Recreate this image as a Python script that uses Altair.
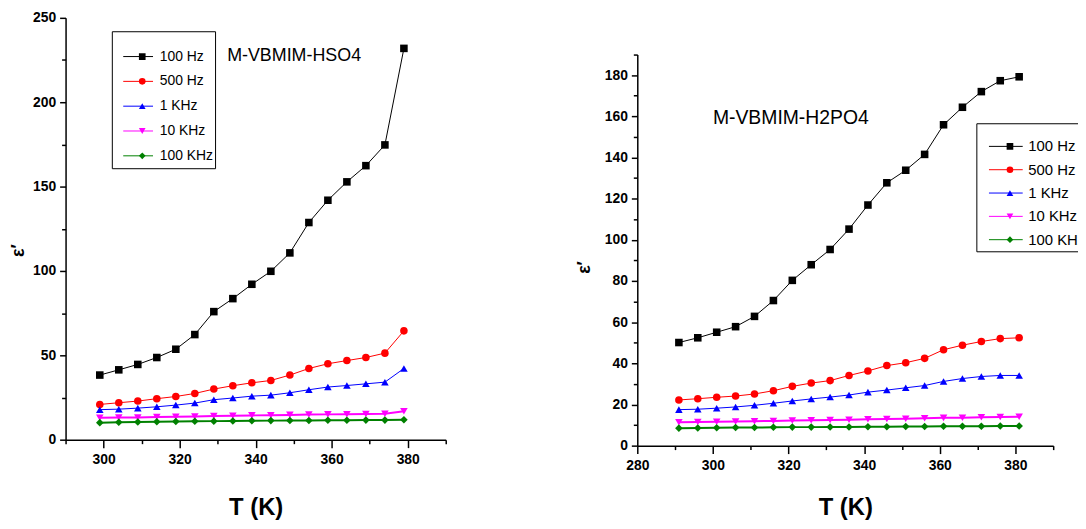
import altair as alt
import pandas as pd

FREQS = ["100 Hz", "500 Hz", "1 KHz", "10 KHz", "100 KHz"]
COLORS = ["#000000", "#ff0000", "#0000ff", "#ff00ff", "#008000"]
SHAPES = ["square", "circle", "triangle-up", "triangle-down", "diamond"]
THICK_LINES = ["10 KHz", "100 KHz"]

# ---- M-VBMIM-HSO4 ----
T_HSO4 = [299, 304, 309, 314, 319, 324, 329, 334, 339, 344, 349, 354, 359, 364, 369, 374, 379]
HSO4_100HZ = [38.3, 41.4, 44.6, 48.7, 53.6, 62.3, 75.9, 83.6, 92.1, 99.8, 110.7, 128.7, 141.9, 152.8, 162.4, 174.7, 231.9]
HSO4_500HZ = [20.9, 21.9, 22.9, 24.3, 25.6, 27.4, 30.0, 32.0, 33.7, 35.1, 38.3, 42.2, 45.0, 46.9, 48.7, 51.3, 64.5]
HSO4_1KHZ = [17.8, 18.1, 18.7, 19.5, 20.5, 21.7, 23.7, 24.7, 25.8, 26.4, 27.8, 29.6, 31.2, 32.1, 33.1, 34.1, 42.2]
HSO4_10KHZ = [13.0, 13.1, 13.2, 13.4, 13.6, 13.8, 14.0, 14.2, 14.4, 14.5, 14.7, 14.9, 15.0, 15.1, 15.2, 15.4, 16.8]
HSO4_100KHZ = [10.1, 10.3, 10.5, 10.6, 10.8, 10.9, 11.0, 11.1, 11.2, 11.3, 11.4, 11.4, 11.5, 11.5, 11.6, 11.6, 11.8]

# ---- M-VBMIM-H2PO4 ----
T_H2PO4 = [291, 296, 301, 306, 311, 316, 321, 326, 331, 336, 341, 346, 351, 356, 361, 366, 371, 376, 381]
H2PO4_100HZ = [50.1, 52.4, 55.1, 57.8, 62.8, 70.5, 80.3, 87.9, 95.3, 105.2, 116.9, 127.7, 133.8, 141.5, 155.9, 164.4, 172.0, 177.3, 179.2]
H2PO4_500HZ = [22.2, 22.8, 23.5, 24.1, 25.1, 26.7, 28.8, 30.4, 31.6, 34.1, 36.3, 38.9, 40.3, 42.4, 46.6, 48.8, 50.6, 52.0, 52.4]
H2PO4_1KHZ = [17.5, 17.7, 18.2, 18.8, 19.6, 20.6, 21.7, 22.7, 23.6, 24.6, 26.0, 27.0, 28.1, 29.2, 31.2, 32.6, 33.6, 34.1, 34.1]
H2PO4_10KHZ = [11.4, 11.5, 11.6, 11.7, 11.9, 12.0, 12.2, 12.3, 12.5, 12.6, 12.8, 12.9, 13.1, 13.3, 13.5, 13.6, 13.8, 13.9, 14.0]
H2PO4_100KHZ = [8.5, 8.6, 8.7, 8.8, 8.8, 8.9, 9.0, 9.0, 9.1, 9.1, 9.2, 9.2, 9.3, 9.3, 9.4, 9.4, 9.4, 9.5, 9.5]

LEFT_X_MAJOR = [300, 320, 340, 360, 380]
LEFT_X_MINOR = [290, 310, 330, 350, 370, 390]
LEFT_Y_MAJOR = [0, 50, 100, 150, 200, 250]
LEFT_Y_MINOR = [25, 75, 125, 175, 225]
RIGHT_X_MAJOR = [280, 300, 320, 340, 360, 380]
RIGHT_X_MINOR = [290, 310, 330, 350, 370, 390]
RIGHT_Y_MAJOR = [0, 20, 40, 60, 80, 100, 120, 140, 160, 180]
RIGHT_Y_MINOR = [10, 30, 50, 70, 90, 110, 130, 150, 170, 190]

FONT = "Liberation Sans, Arial, sans-serif"


def make_df(T, series):
    rows = []
    for f, vals in zip(FREQS, series):
        for t, v in zip(T, vals):
            rows.append({"T": t, "eps": v, "freq": f})
    return pd.DataFrame(rows)


df_l = make_df(T_HSO4, [HSO4_100HZ, HSO4_500HZ, HSO4_1KHZ, HSO4_10KHZ, HSO4_100KHZ])
df_r = make_df(T_H2PO4, [H2PO4_100HZ, H2PO4_500HZ, H2PO4_1KHZ, H2PO4_10KHZ, H2PO4_100KHZ])

THICK_TEST = "indexof(" + str(THICK_LINES) + ", datum.freq) >= 0"


def panel(df, xdom, ydom, xmaj, xmin, ymaj, ymin, w, h, yrange, label, lab_T, lab_eps,
          lab_size, ytx, yty, xty, leg):
    xs = alt.Scale(domain=xdom, nice=False, zero=False)
    ys = alt.Scale(domain=ydom, nice=False, zero=False, range=yrange)
    base = alt.Chart(df)
    fs = leg["fs"]
    # boxed legend drawing the line samples (labels drawn by the symbol legend)
    stroke_leg = alt.Legend(
        orient="none", legendX=leg["x"], legendY=leg["y"], title=" ",
        titleFontSize=leg["tfs"], titlePadding=leg["tpad"], titleOpacity=0,
        symbolType="stroke", symbolSize=leg["len"] ** 2, symbolStrokeWidth=1,
        symbolOffset=leg["so"], strokeColor="black", padding=leg["pad"],
        labelExpr="''", labelFont=FONT, labelFontSize=fs,
        labelOffset=leg["loff"], rowPadding=leg["row"], clipHeight=12,
    )
    pt_leg = alt.Legend(
        orient="none", legendX=leg["px"], legendY=leg["y"] + leg["pad"] + leg["tfs"] + leg["tpad"],
        title=None, symbolSize=45, symbolStrokeWidth=0, padding=0,
        labelFont=FONT, labelFontSize=fs, labelColor="black",
        labelOffset=leg["ploff"], rowPadding=leg["row"], clipHeight=12,
    )

    line = base.mark_line().encode(
        x=alt.X("T:Q", scale=xs, axis=alt.Axis(
            orient="bottom", values=xmaj, title="T (K)", tickSize=8,
            labelPadding=5, titleFontSize=24, titleFont=FONT, titleFontWeight="bold",
            titleY=xty, titleBaseline="alphabetic", labelFlush=False)),
        y=alt.Y("eps:Q", scale=ys, axis=alt.Axis(
            orient="left", values=ymaj, title="ε′", tickSize=6, labelPadding=4,
            titleFontSize=18, titleFont=FONT, titleFontWeight="bold",
            titleAngle=270, titleX=ytx, titleY=yty, titleAlign="center",
            titleBaseline="middle")),
        stroke=alt.Stroke("freq:N", sort=FREQS, scale=alt.Scale(range=COLORS),
                          legend=stroke_leg),
        strokeWidth=alt.condition(THICK_TEST, alt.value(2), alt.value(1)),
    )
    pts = base.mark_point(filled=True, size=58, opacity=1, strokeWidth=0).encode(
        x=alt.X("T:Q", scale=xs, axis=None),
        y=alt.Y("eps:Q", scale=ys, axis=None),
        fill=alt.Fill("freq:N", scale=alt.Scale(domain=FREQS, range=COLORS), legend=pt_leg),
        shape=alt.Shape("freq:N", scale=alt.Scale(domain=FREQS, range=SHAPES), legend=pt_leg),
    )
    lab_df = pd.DataFrame({"T": [lab_T], "eps": [lab_eps], "text": [label]})
    txt = alt.Chart(lab_df).mark_text(
        align="left", baseline="middle", font=FONT, fontSize=lab_size, color="black"
    ).encode(
        x=alt.X("T:Q", scale=xs, axis=alt.Axis(
            orient="bottom", values=xmin, labels=False, domain=False, tickSize=4,
            title=None)),
        y=alt.Y("eps:Q", scale=ys, axis=alt.Axis(
            orient="left", values=ymin, labels=False, domain=False, tickSize=4,
            title=None)),
        text="text:N",
    )
    return alt.layer(line, pts, txt).resolve_axis(x="independent", y="independent").properties(
        width=w, height=h)


LEG_L = dict(x=46.6, y=13.5, pad=5.5, tfs=9, tpad=5, fs=14, row=11, len=30, so=5.5,
             loff=56, px=70.25, ploff=10.6)
LEG_R = dict(x=341.6, y=106.2, pad=3, tfs=9, tpad=5.3, fs=15, row=8.5, len=34, so=9.2,
             loff=80, px=367.95, ploff=10.9)

left = panel(df_l, [290, 390], [0, 250], LEFT_X_MAJOR, LEFT_X_MINOR, LEFT_Y_MAJOR,
             LEFT_Y_MINOR, 383, 425, [425, 0], "M-VBMIM-HSO4", 332.5, 227.4, 18,
             -47, 234, 75, LEG_L)
right = panel(df_r, [280, 390], [0, 190], RIGHT_X_MAJOR, RIGHT_X_MINOR, RIGHT_Y_MAJOR,
              RIGHT_Y_MINOR, 419, 431, [431, 37], "M-VBMIM-H2PO4", 300.0, 159.3, 19.5,
              -53, 251, 69.5, LEG_R)

chart = alt.hconcat(left, right, spacing=130).resolve_scale(
    x="independent", y="independent", stroke="independent", fill="independent",
    shape="independent"
).resolve_legend(
    stroke="independent", fill="independent", shape="independent"
).properties(
    padding={"left": 2, "top": 1, "right": -30, "bottom": -1}
).configure_view(strokeWidth=0).configure_axis(
    grid=False, domainColor="black", domainWidth=1.5, tickColor="black",
    tickWidth=1.5, labelFont=FONT, labelFontSize=14, labelFontWeight="bold",
    labelColor="black", titleColor="black"
)

chart.save("out.html", embed_options={"renderer": "svg", "actions": False})
